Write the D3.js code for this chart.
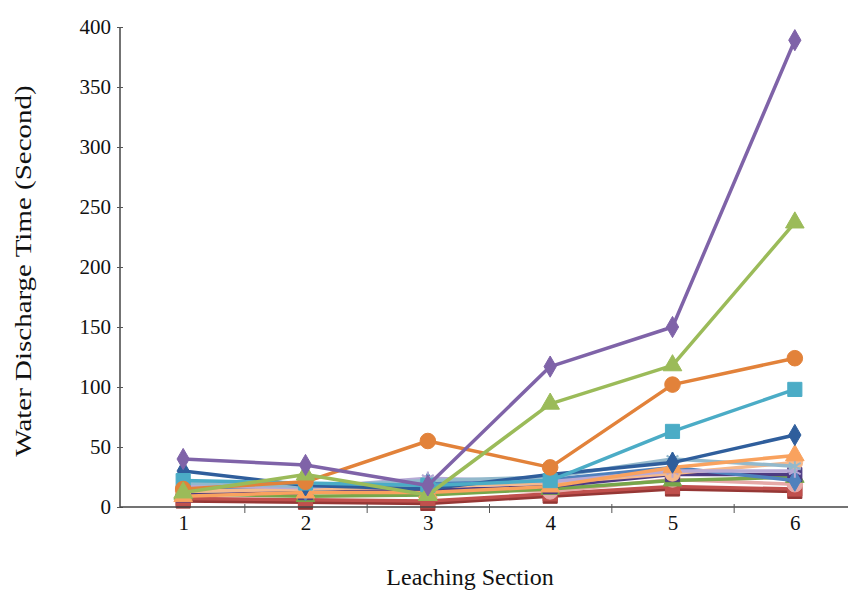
<!DOCTYPE html>
<html>
<head>
<meta charset="utf-8">
<script src="https://cdn.jsdelivr.net/npm/d3@7"></script>
<style>
  body { margin: 0; background: #fff; }
  svg { display: block; font-family: "Liberation Serif", "Times New Roman", serif; }
</style>
</head>
<body>
<svg width="848" height="592"></svg>
<script>
var sections = [1, 2, 3, 4, 5, 6];
var yTicks = [0, 50, 100, 150, 200, 250, 300, 350, 400];

// one array per sample, values in seconds at sections 1..6
var darkRed   = [5, 4, 3, 9, 15, 13];
var red       = [7, 6, 5, 11, 17, 15];
var pink      = [14, 13, 16, 13, 23, 19];
var green2    = [11, 9, 10, 15, 22, 25];
var navy      = [10, 12, 14, 17, 27, 27];
var blue      = [16, 14, 20, 23, 33, 22];
var peach     = [13, 15, 17, 20, 28, 37];
var lilac     = [18, 16, 24, 21, 30, 30];
var greyBlue  = [20, 17, 22, 25, 40, 34];
var lightOrg  = [9, 12, 12, 17, 33, 43];
var darkBlue  = [30, 18, 15, 27, 37, 60];
var aqua      = [22, 20, 18, 22, 63, 98];
var orange    = [15, 21, 55, 33, 102, 124];
var green     = [12, 27, 10, 86, 118, 237];
var purple    = [40, 35, 18, 117, 150, 389];

var series = [
    { v: darkRed,  c: '#953735', m: 'square' },
    { v: red,      c: '#C0504D', m: 'square' },
    { v: pink,     c: '#E6A9A7', m: 'circle' },
    { v: green2,   c: '#77A64A', m: 'triangle' },
    { v: navy,     c: '#4D3B82', m: 'square' },
    { v: blue,     c: '#4F81BD', m: 'diamond' },
    { v: peach,    c: '#F6B98C', m: 'circle' },
    { v: lilac,    c: '#B7A9D6', m: 'star' },
    { v: greyBlue, c: '#93B9CC', m: 'star' },
    { v: lightOrg, c: '#F9A25E', m: 'triangle' },
    { v: darkBlue, c: '#2F5E9C', m: 'diamond' },
    { v: aqua,     c: '#4BACC6', m: 'square' },
    { v: orange,   c: '#E2823A', m: 'circle' },
    { v: green,    c: '#9BBB59', m: 'triangle' },
    { v: purple,   c: '#7F63A8', m: 'diamond' }
];

var svg = d3.select('svg');
var x = d3.scaleLinear().domain([0.5, 6.5]).range([122, 856]);
var y = d3.scaleLinear().domain([0, 400]).range([507, 27]);

var line = d3.line()
    .x(function(d, i) { return x(sections[i]); })
    .y(function(d) { return y(d); });

var symbols = {
    square: d3.symbolSquare,
    circle: d3.symbolCircle,
    triangle: d3.symbolTriangle,
    diamond: d3.symbolDiamond,
    star: d3.symbolAsterisk
};
var sizes = { square: 200, circle: 190, triangle: 150, diamond: 130, star: 130 };

series.forEach(function(s) {
    var g = svg.append('g');
    g.append('path')
        .attr('d', line(s.v))
        .attr('fill', 'none')
        .attr('stroke', s.c)
        .attr('stroke-width', 3.5)
        .attr('stroke-linejoin', 'round');
    g.selectAll('path.mk').data(s.v).enter()
        .append('path')
        .attr('class', 'mk')
        .attr('transform', function(d, i) { return 'translate(' + x(sections[i]) + ',' + y(d) + ')'; })
        .attr('d', d3.symbol().type(symbols[s.m]).size(sizes[s.m]))
        .attr('fill', s.m == 'star' ? 'none' : s.c)
        .attr('stroke', s.c)
        .attr('stroke-width', s.m == 'star' ? 2 : 1);
});

// y axis
var yAxis = svg.append('g')
    .attr('transform', 'translate(120,0)')
    .call(d3.axisLeft(y).tickValues(yTicks).tickSize(3).tickPadding(6));
yAxis.selectAll('.tick line').attr('x2', 3).attr('x1', -3).attr('stroke', '#555');
yAxis.select('.domain').attr('stroke', '#444').attr('stroke-width', 1.5).attr('d', 'M0,27V507');

// x axis: boundary ticks
var xAxis = svg.append('g')
    .attr('transform', 'translate(0,507)')
    .call(d3.axisBottom(x).tickValues([1.5, 2.5, 3.5, 4.5, 5.5]).tickSize(6).tickFormat(''));
xAxis.select('.domain').attr('stroke', '#444').attr('stroke-width', 1.5).attr('d', 'M120,0H848');
xAxis.selectAll('.tick line').attr('y1', -3).attr('stroke', '#555');

var xLabels = svg.append('g')
    .attr('transform', 'translate(0,507)')
    .call(d3.axisBottom(x).tickValues(sections).tickSize(0).tickPadding(8).tickFormat(d3.format('d')));
xLabels.select('.domain').remove();

svg.selectAll('.tick text')
    .attr('font-family', '"Liberation Serif", serif')
    .attr('font-size', 21)
    .attr('fill', '#111');

svg.append('text')
    .attr('transform', 'translate(24,271) rotate(-90) scale(1.26,1)')
    .attr('text-anchor', 'middle')
    .attr('dominant-baseline', 'central')
    .attr('font-size', 23)
    .attr('fill', '#111')
    .text('Water Discharge Time (Second)');

svg.append('text')
    .attr('x', 470)
    .attr('y', 585)
    .attr('text-anchor', 'middle')
    .attr('font-size', 24)
    .attr('fill', '#111')
    .text('Leaching Section');
</script>
</body>
</html>
